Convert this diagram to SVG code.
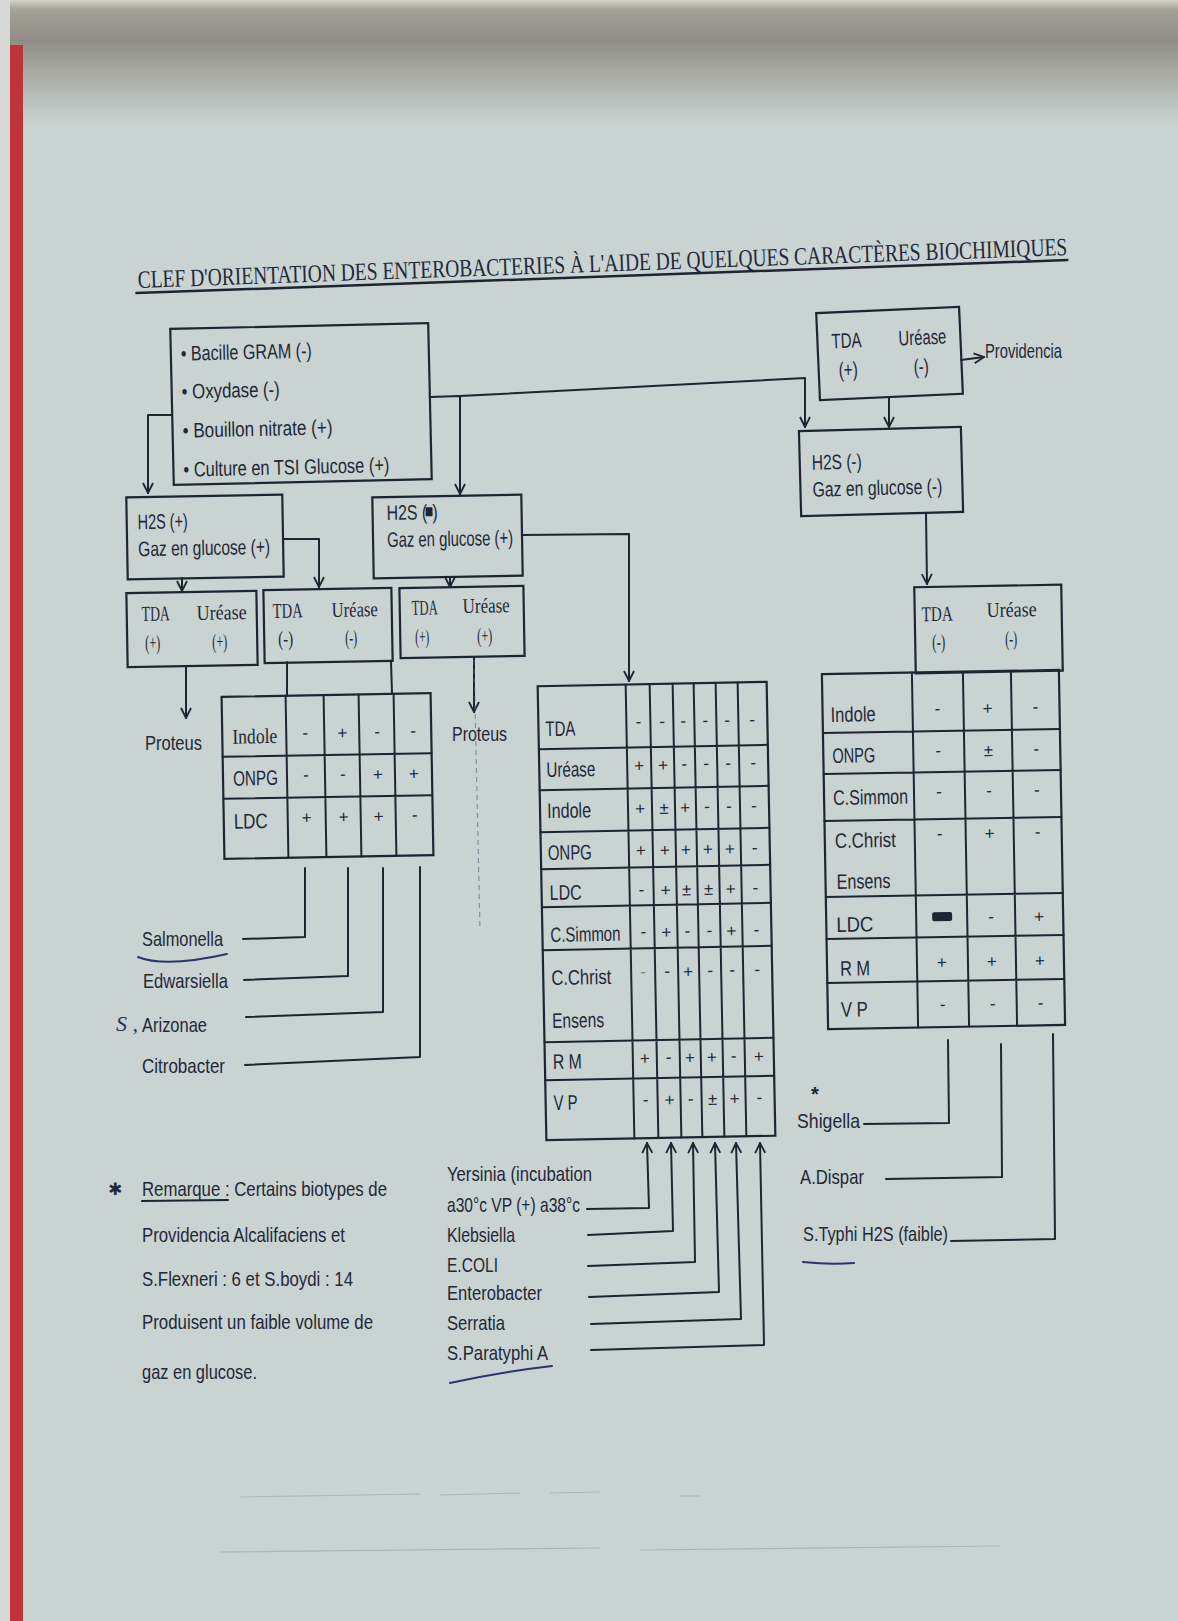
<svg xmlns="http://www.w3.org/2000/svg" width="1178" height="1621" viewBox="0 0 1178 1621">
<defs>
<linearGradient id="topg" x1="0" y1="0" x2="0" y2="1">
<stop offset="0" stop-color="#d2d2cd"/>
<stop offset="0.07" stop-color="#a4a198"/>
<stop offset="0.3" stop-color="#8f8d86"/>
<stop offset="0.55" stop-color="#aaaca6"/>
<stop offset="0.85" stop-color="#c3cbc8"/>
<stop offset="1" stop-color="#c9d3d2" stop-opacity="0"/>
</linearGradient>
<marker id="ar" viewBox="0 0 12 12" refX="11" refY="6" markerWidth="12" markerHeight="12" markerUnits="userSpaceOnUse" orient="auto">
<path d="M1,1 L11,6 L1,11" fill="none" stroke="#1f2431" stroke-width="1.8"/>
</marker>
<style>
.ln{fill:none;stroke:#1f2431;stroke-width:2;stroke-linecap:round;stroke-linejoin:round}
.bx{fill:none;stroke:#1f2431;stroke-width:2.2}
.t{font-family:"Liberation Sans",Arial,sans-serif;font-size:21px;fill:#232836}
.sf{font-family:"Liberation Serif","Times New Roman",serif;font-size:21px;fill:#232836}
.v{font-family:"Liberation Sans",Arial,sans-serif;font-size:17px;fill:#232836;text-anchor:middle}
.ttl{font-family:"Liberation Serif","Times New Roman",serif;font-size:20px;fill:#232836}
.pen{fill:none;stroke:#2a3570;stroke-width:2;stroke-linecap:round}
</style>
</defs>

<!-- background / photo of page -->
<rect width="1178" height="1621" fill="#c9d3d2"/>
<rect x="0" y="0" width="1178" height="135" fill="url(#topg)"/>
<rect x="0" y="0" width="10" height="1621" fill="#d8d9d6"/>
<rect x="10" y="45" width="13" height="1576" fill="#bf343c"/>
<g stroke="#8c95a0" stroke-width="1.2" opacity="0.5" fill="none">
<path d="M240,1497 L420,1494 M440,1495 L520,1493 M550,1493 L600,1492 M680,1496 L700,1496"/>
<path d="M220,1552 L600,1548 M640,1550 L1000,1546"/>
</g>

<!-- title -->
<g id="title" transform="rotate(-2.03 138 288) translate(138 288) scale(1 1.25) translate(-138 -288)">
<text class="ttl" x="138" y="288" textLength="930" lengthAdjust="spacingAndGlyphs">CLEF D'ORIENTATION DES ENTEROBACTERIES À L'AIDE DE QUELQUES CARACTÈRES BIOCHIMIQUES</text>
<line class="ln" x1="136" y1="292" x2="1068" y2="292" stroke-width="1.4"/>
</g>

<!-- main criteria box -->
<g id="n-main" transform="rotate(-1.3 301 404)">
<rect class="bx" x="172" y="326" width="258" height="156"/>
<text class="t" x="182" y="358" textLength="131" lengthAdjust="spacingAndGlyphs">• Bacille GRAM (-)</text>
<text class="t" x="182" y="396" textLength="98" lengthAdjust="spacingAndGlyphs">• Oxydase (-)</text>
<text class="t" x="182" y="435" textLength="150" lengthAdjust="spacingAndGlyphs">• Bouillon nitrate (+)</text>
<text class="t" x="182" y="474" textLength="206" lengthAdjust="spacingAndGlyphs">• Culture en TSI Glucose (+)</text>
</g>

<!-- TDA(+) Urease(-) -> Providencia -->
<g id="n-tda-prov" transform="rotate(-2.5 889 353)">
<rect class="bx" x="818" y="310" width="143" height="87"/>
<text class="t" x="832" y="346" textLength="30" lengthAdjust="spacingAndGlyphs">TDA</text>
<text class="t" x="899" y="346" textLength="48" lengthAdjust="spacingAndGlyphs">Uréase</text>
<text class="t" x="838" y="375" textLength="19" lengthAdjust="spacingAndGlyphs">(+)</text>
<text class="t" x="913" y="375" textLength="15" lengthAdjust="spacingAndGlyphs">(-)</text>
</g>
<g id="n-providencia">
<text class="t" x="985" y="358" textLength="77" lengthAdjust="spacingAndGlyphs">Providencia</text>
</g>

<!-- H2S(-) gaz(-) -->
<g id="n-h2s-neg" transform="rotate(-1.5 881 471)">
<rect class="bx" x="800" y="429" width="162" height="85"/>
<text class="t" x="812" y="468" textLength="50" lengthAdjust="spacingAndGlyphs">H2S (-)</text>
<text class="t" x="812" y="495" textLength="130" lengthAdjust="spacingAndGlyphs">Gaz en glucose (-)</text>
</g>

<!-- H2S(+) gaz(+) -->
<g id="n-h2s-pos" transform="rotate(-1 205 537)">
<rect class="bx" x="127" y="496" width="156" height="82"/>
<text class="t" x="138" y="528" textLength="50" lengthAdjust="spacingAndGlyphs">H2S (+)</text>
<text class="t" x="138" y="555" textLength="132" lengthAdjust="spacingAndGlyphs">Gaz en glucose (+)</text>
</g>

<!-- H2S(blot) gaz(+) -->
<g id="n-h2s-mid" transform="rotate(-1 447 536)">
<rect class="bx" x="373" y="496" width="149" height="81"/>
<text class="t" x="387" y="519" textLength="51" lengthAdjust="spacingAndGlyphs">H2S (-)</text>
<rect x="426" y="507" width="7" height="9" rx="1" fill="#1f2431"/>
<text class="t" x="387" y="546" textLength="126" lengthAdjust="spacingAndGlyphs">Gaz en glucose (+)</text>
</g>

<!-- small TDA/Urease boxes -->
<g id="n-box1" transform="rotate(-1 192 629)">
<rect class="bx" x="127" y="592" width="130" height="74"/>
<text class="sf" x="142" y="620" textLength="28" lengthAdjust="spacingAndGlyphs">TDA</text>
<text class="sf" x="197" y="620" textLength="50" lengthAdjust="spacingAndGlyphs">Uréase</text>
<text class="sf" x="145" y="649" textLength="15" lengthAdjust="spacingAndGlyphs">(+)</text>
<text class="sf" x="212" y="649" textLength="15" lengthAdjust="spacingAndGlyphs">(+)</text>
</g>
<g id="n-box2" transform="rotate(-1 328 625)">
<rect class="bx" x="264" y="589" width="128" height="73"/>
<text class="sf" x="273" y="617" textLength="30" lengthAdjust="spacingAndGlyphs">TDA</text>
<text class="sf" x="332" y="617" textLength="46" lengthAdjust="spacingAndGlyphs">Uréase</text>
<text class="sf" x="278" y="645" textLength="15" lengthAdjust="spacingAndGlyphs">(-)</text>
<text class="sf" x="345" y="645" textLength="12" lengthAdjust="spacingAndGlyphs">(-)</text>
</g>
<g id="n-box3" transform="rotate(-1 462 622)">
<rect class="bx" x="400" y="587" width="124" height="70"/>
<text class="sf" x="412" y="614" textLength="26" lengthAdjust="spacingAndGlyphs">TDA</text>
<text class="sf" x="463" y="613" textLength="47" lengthAdjust="spacingAndGlyphs">Uréase</text>
<text class="sf" x="415" y="643" textLength="14" lengthAdjust="spacingAndGlyphs">(+)</text>
<text class="sf" x="477" y="643" textLength="15" lengthAdjust="spacingAndGlyphs">(+)</text>
</g>

<g id="n-proteus1"><text class="t" x="145" y="750" textLength="57" lengthAdjust="spacingAndGlyphs">Proteus</text></g>
<g id="n-proteus2"><text class="t" x="452" y="741" textLength="55" lengthAdjust="spacingAndGlyphs">Proteus</text></g>

<!-- 4-column table -->
<g id="n-table4" transform="rotate(-1 328 776)">
<rect class="bx" x="223" y="695" width="209" height="162"/>
<path class="ln" d="M287,695 V857 M325,695 V857 M360,695 V857 M395,695 V857 M223,755 H432 M223,797 H432"/>
<text class="sf" x="233" y="742" textLength="45" lengthAdjust="spacingAndGlyphs">Indole</text>
<text class="t" x="233" y="784" textLength="45" lengthAdjust="spacingAndGlyphs">ONPG</text>
<text class="t" x="233" y="827" textLength="34" lengthAdjust="spacingAndGlyphs">LDC</text>
<text class="v" x="306" y="738">-</text><text class="v" x="343" y="739">+</text><text class="v" x="378" y="738">-</text><text class="v" x="414" y="738">-</text>
<text class="v" x="306" y="780">-</text><text class="v" x="343" y="780">-</text><text class="v" x="378" y="781">+</text><text class="v" x="414" y="781">+</text>
<text class="v" x="306" y="823">+</text><text class="v" x="343" y="823">+</text><text class="v" x="378" y="823">+</text><text class="v" x="414" y="822">-</text>
</g>

<!-- 6-column table -->
<g id="n-table6" transform="rotate(-1.1 656 911)">
<rect class="bx" x="542" y="684" width="229" height="454"/>
<path class="ln" d="M630,684 V1138 M654,684 V1138 M677,684 V1138 M698,684 V1138 M720,684 V1138 M742,684 V1138 M542,747 H771 M542,788 H771 M542,830 H771 M542,867 H771 M542,905 H771 M542,948 H771 M542,1040 H771 M542,1078 H771"/>
<text class="t" x="549" y="734" textLength="30" lengthAdjust="spacingAndGlyphs">TDA</text>
<text class="t" x="549" y="775" textLength="49" lengthAdjust="spacingAndGlyphs">Uréase</text>
<text class="t" x="549" y="816" textLength="44" lengthAdjust="spacingAndGlyphs">Indole</text>
<text class="t" x="549" y="858" textLength="44" lengthAdjust="spacingAndGlyphs">ONPG</text>
<text class="t" x="550" y="898" textLength="32" lengthAdjust="spacingAndGlyphs">LDC</text>
<text class="t" x="550" y="940" style="font-size:16px" transform="translate(550 940) scale(1 1.3) translate(-550 -940)" textLength="70" lengthAdjust="spacingAndGlyphs">C.Simmon</text>
<text class="t" x="550" y="983" textLength="60" lengthAdjust="spacingAndGlyphs">C.Christ</text>
<text class="t" x="550" y="1026" textLength="52" lengthAdjust="spacingAndGlyphs">Ensens</text>
<text class="t" x="550" y="1067" textLength="29" lengthAdjust="spacingAndGlyphs">R M</text>
<text class="t" x="550" y="1108" textLength="24" lengthAdjust="spacingAndGlyphs">V P</text>
<g>
<text class="v" x="642" y="727">-</text><text class="v" x="666" y="727">-</text><text class="v" x="687" y="727">-</text><text class="v" x="709" y="727">-</text><text class="v" x="731" y="727">-</text><text class="v" x="756" y="727">-</text>
<text class="v" x="642" y="771">+</text><text class="v" x="666" y="771">+</text><text class="v" x="687" y="770">-</text><text class="v" x="709" y="770">-</text><text class="v" x="731" y="770">-</text><text class="v" x="756" y="770">-</text>
<text class="v" x="642" y="814">+</text><text class="v" x="666" y="814">±</text><text class="v" x="687" y="814">+</text><text class="v" x="709" y="813">-</text><text class="v" x="731" y="813">-</text><text class="v" x="756" y="813">-</text>
<text class="v" x="642" y="856">+</text><text class="v" x="666" y="856">+</text><text class="v" x="687" y="856">+</text><text class="v" x="709" y="856">+</text><text class="v" x="731" y="856">+</text><text class="v" x="756" y="855">-</text>
<text class="v" x="642" y="895">-</text><text class="v" x="666" y="896">+</text><text class="v" x="687" y="896">±</text><text class="v" x="709" y="896">±</text><text class="v" x="731" y="896">+</text><text class="v" x="756" y="895">-</text>
<text class="v" x="643" y="937">-</text><text class="v" x="666" y="938">+</text><text class="v" x="687" y="937">-</text><text class="v" x="709" y="937">-</text><text class="v" x="731" y="938">+</text><text class="v" x="756" y="937">-</text>
<text class="v" x="642" y="977" opacity="0.45">-</text><text class="v" x="666" y="977">-</text><text class="v" x="687" y="978">+</text><text class="v" x="709" y="977">-</text><text class="v" x="731" y="977">-</text><text class="v" x="756" y="977">-</text>
<text class="v" x="642" y="1064">+</text><text class="v" x="666" y="1063">-</text><text class="v" x="687" y="1064">+</text><text class="v" x="709" y="1064">+</text><text class="v" x="731" y="1063">-</text><text class="v" x="756" y="1064">+</text>
<text class="v" x="642" y="1105">-</text><text class="v" x="666" y="1106">+</text><text class="v" x="687" y="1105">-</text><text class="v" x="709" y="1106">±</text><text class="v" x="731" y="1106">+</text><text class="v" x="756" y="1105">-</text>
</g>
</g>

<!-- right header TDA(-) Urease(-) -->
<g id="n-tda-neg" transform="rotate(-1 988 629)">
<rect class="bx" x="915" y="586" width="147" height="86"/>
<text class="sf" x="922" y="620" textLength="31" lengthAdjust="spacingAndGlyphs">TDA</text>
<text class="sf" x="987" y="617" textLength="50" lengthAdjust="spacingAndGlyphs">Uréase</text>
<text class="sf" x="932" y="648" textLength="13" lengthAdjust="spacingAndGlyphs">(-)</text>
<text class="sf" x="1005" y="646" textLength="12" lengthAdjust="spacingAndGlyphs">(-)</text>
</g>

<!-- right table -->
<g id="n-table3" transform="rotate(-1 945 850)">
<rect class="bx" x="825" y="672" width="237" height="355"/>
<path class="ln" d="M915,672 V1027 M966,672 V1027 M1014,672 V1027 M825,731 H1062 M825,772 H1062 M825,819 H1062 M825,895 H1062 M825,937 H1062 M825,981 H1062"/>
<text class="t" x="833" y="720" textLength="45" lengthAdjust="spacingAndGlyphs">Indole</text>
<text class="t" x="834" y="761" textLength="43" lengthAdjust="spacingAndGlyphs">ONPG</text>
<text class="t" x="834" y="803" textLength="75" lengthAdjust="spacingAndGlyphs">C.Simmon</text>
<text class="t" x="835" y="846" textLength="61" lengthAdjust="spacingAndGlyphs">C.Christ</text>
<text class="t" x="836" y="887" textLength="54" lengthAdjust="spacingAndGlyphs">Ensens</text>
<text class="t" x="835" y="930" textLength="37" lengthAdjust="spacingAndGlyphs">LDC</text>
<text class="t" x="838" y="974" textLength="30" lengthAdjust="spacingAndGlyphs">R M</text>
<text class="t" x="838" y="1015" textLength="27" lengthAdjust="spacingAndGlyphs">V P</text>
<text class="v" x="940" y="714">-</text><text class="v" x="990" y="715">+</text><text class="v" x="1038" y="714">-</text>
<text class="v" x="940" y="756">-</text><text class="v" x="990" y="757">±</text><text class="v" x="1038" y="756">-</text>
<text class="v" x="940" y="797">-</text><text class="v" x="990" y="797">-</text><text class="v" x="1038" y="797">-</text>
<text class="v" x="940" y="839">-</text><text class="v" x="990" y="840">+</text><text class="v" x="1038" y="839">-</text>
<rect x="931" y="912" width="20" height="9" rx="2" fill="#1f2431"/>
<text class="v" x="990" y="923">-</text><text class="v" x="1038" y="924">+</text>
<text class="v" x="940" y="968">+</text><text class="v" x="990" y="968">+</text><text class="v" x="1038" y="968">+</text>
<text class="v" x="940" y="1010">-</text><text class="v" x="990" y="1010">-</text><text class="v" x="1038" y="1010">-</text>
</g>

<!-- outcome labels -->
<g id="n-salmonella"><text class="t" x="142" y="946" textLength="81" lengthAdjust="spacingAndGlyphs">Salmonella</text></g>
<g id="n-edwarsiella"><text class="t" x="143" y="988" textLength="85" lengthAdjust="spacingAndGlyphs">Edwarsiella</text></g>
<g id="n-arizonae"><text class="t" x="142" y="1032" textLength="65" lengthAdjust="spacingAndGlyphs">Arizonae</text></g>
<g id="n-citrobacter"><text class="t" x="142" y="1073" textLength="83" lengthAdjust="spacingAndGlyphs">Citrobacter</text></g>

<g id="n-yersinia">
<text class="t" x="447" y="1181" textLength="145" lengthAdjust="spacingAndGlyphs">Yersinia (incubation</text>
<text class="t" x="447" y="1212" textLength="133" lengthAdjust="spacingAndGlyphs">a30°c VP (+) a38°c</text>
</g>
<g id="n-klebsiella"><text class="t" x="447" y="1242" textLength="68" lengthAdjust="spacingAndGlyphs">Klebsiella</text></g>
<g id="n-ecoli"><text class="t" x="447" y="1272" textLength="51" lengthAdjust="spacingAndGlyphs">E.COLI</text></g>
<g id="n-enterobacter"><text class="t" x="447" y="1300" textLength="95" lengthAdjust="spacingAndGlyphs">Enterobacter</text></g>
<g id="n-serratia"><text class="t" x="447" y="1330" textLength="58" lengthAdjust="spacingAndGlyphs">Serratia</text></g>
<g id="n-paratyphi"><text class="t" x="447" y="1360" textLength="101" lengthAdjust="spacingAndGlyphs">S.Paratyphi A</text></g>

<g id="n-shigella"><text class="t" x="797" y="1128" textLength="63" lengthAdjust="spacingAndGlyphs">Shigella</text></g>
<g id="n-dispar"><text class="t" x="800" y="1184" textLength="64" lengthAdjust="spacingAndGlyphs">A.Dispar</text></g>
<g id="n-typhi"><text class="t" x="803" y="1241" textLength="145" lengthAdjust="spacingAndGlyphs">S.Typhi H2S (faible)</text></g>

<!-- remark -->
<g id="n-remarque">
<text x="108" y="1195" font-family="DejaVu Sans, sans-serif" font-size="17" fill="#232836">✱</text>
<text class="t" x="142" y="1196" textLength="245" lengthAdjust="spacingAndGlyphs">Remarque : Certains biotypes de</text>
<line class="ln" x1="142" y1="1201" x2="228" y2="1200" stroke-width="1.6"/>
<text class="t" x="142" y="1242" textLength="203" lengthAdjust="spacingAndGlyphs">Providencia Alcalifaciens et</text>
<text class="t" x="142" y="1286" textLength="211" lengthAdjust="spacingAndGlyphs">S.Flexneri : 6 et S.boydi : 14</text>
<text class="t" x="142" y="1329" textLength="231" lengthAdjust="spacingAndGlyphs">Produisent un faible volume de</text>
<text class="t" x="142" y="1379" textLength="115" lengthAdjust="spacingAndGlyphs">gaz en glucose.</text>
</g>

<!-- connectors -->
<g id="connectors">
<polyline class="ln" points="172,415 148,415 148,493" marker-end="url(#ar)"/>
<polyline class="ln" points="430,397 460,396 460,494" marker-end="url(#ar)"/>
<polyline class="ln" points="460,396 805,378 805,427" marker-end="url(#ar)"/>
<polyline class="ln" points="889,398 889,427" marker-end="url(#ar)"/>
<polyline class="ln" points="961,360 984,357" marker-end="url(#ar)"/>
<polyline class="ln" points="926,514 927,584" marker-end="url(#ar)"/>
<polyline class="ln" points="283,539 319,539 319,587" marker-end="url(#ar)"/>
<polyline class="ln" points="182,578 182,591" marker-end="url(#ar)"/>
<polyline class="ln" points="450,577 450,587" marker-end="url(#ar)"/>
<polyline class="ln" points="522,535 629,534 629,681" marker-end="url(#ar)"/>
<polyline class="ln" points="186,666 186,718" marker-end="url(#ar)"/>
<polyline class="ln" points="474,657 474,712" marker-end="url(#ar)"/>
<line class="ln" x1="287" y1="662" x2="287" y2="695"/>
<line class="ln" x1="391" y1="661" x2="392" y2="694"/>
<line x1="474" y1="660" x2="480" y2="930" stroke="#55607a" stroke-width="1.2" stroke-dasharray="5 4" opacity="0.6"/>
<polyline class="ln" points="243,939 305,937 305,868"/>
<polyline class="ln" points="244,980 348,976 348,868"/>
<polyline class="ln" points="246,1017 383,1012 383,868"/>
<polyline class="ln" points="245,1065 420,1057 420,867"/>
<polyline class="ln" points="587,1209 649,1208 647,1143" marker-end="url(#ar)"/>
<polyline class="ln" points="588,1235 673,1231 671,1143" marker-end="url(#ar)"/>
<polyline class="ln" points="588,1266 695,1262 693,1143" marker-end="url(#ar)"/>
<polyline class="ln" points="589,1297 719,1292 715,1143" marker-end="url(#ar)"/>
<polyline class="ln" points="591,1324 741,1319 736,1143" marker-end="url(#ar)"/>
<polyline class="ln" points="591,1350 764,1345 760,1143" marker-end="url(#ar)"/>
<polyline class="ln" points="864,1124 949,1123 948,1040"/>
<polyline class="ln" points="886,1179 1002,1177 1001,1044"/>
<polyline class="ln" points="951,1241 1055,1239 1053,1034"/>
</g>

<!-- handwritten pen marks -->
<g id="pen">
<path class="pen" d="M138,957 Q165,968 227,954"/>
<path class="pen" d="M450,1383 Q500,1372 552,1366"/>
<path class="pen" d="M803,1262 Q830,1265 854,1263"/>
<text x="116" y="1031" font-family="Liberation Serif, serif" font-style="italic" font-size="22" fill="#2a3050">S ,</text>
<text x="811" y="1101" font-family="Liberation Sans, sans-serif" font-weight="bold" font-size="20" fill="#1f2431">*</text>
</g>
</svg>
